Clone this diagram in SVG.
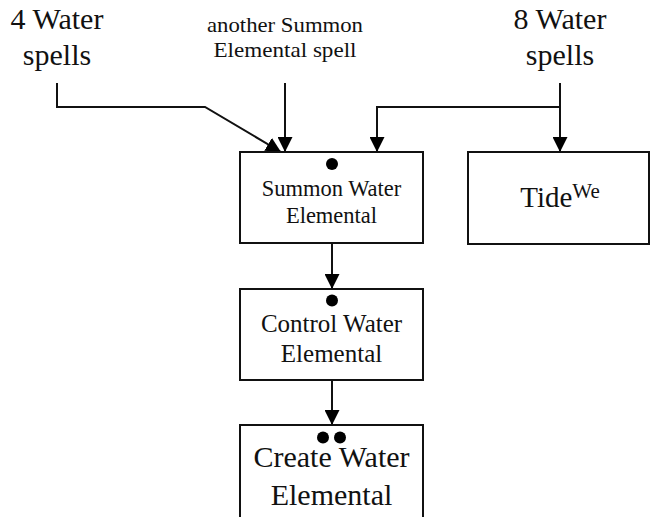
<svg xmlns="http://www.w3.org/2000/svg" width="651" height="517" viewBox="0 0 651 517">
<defs>
<style>
.t{font-family:"Liberation Serif","Times New Roman",serif;fill:#111;text-anchor:middle}
.box{fill:#fff;stroke:#111;stroke-width:2}
.ln{fill:none;stroke:#111;stroke-width:2}
.dot{fill:#000}
</style>
<marker id="ah" viewBox="0 0 15 15" refX="15" refY="7.5" markerWidth="15" markerHeight="15" markerUnits="userSpaceOnUse" orient="auto">
<path d="M0,0 L15,7.5 L0,15 Z" fill="#000"/>
</marker>
</defs>
<rect width="651" height="517" fill="#fff"/>
<g id="label-4water">
<text class="t" x="57" y="29" font-size="30">4 Water</text>
<text class="t" x="57" y="65" font-size="30">spells</text>
</g>
<g id="label-another">
<text class="t" x="285" y="32" font-size="21" textLength="156" lengthAdjust="spacingAndGlyphs">another Summon</text>
<text class="t" x="285" y="57" font-size="21" textLength="143" lengthAdjust="spacingAndGlyphs">Elemental spell</text>
</g>
<g id="label-8water">
<text class="t" x="560" y="29" font-size="30">8 Water</text>
<text class="t" x="560" y="65" font-size="30">spells</text>
</g>
<g id="connectors">
<polyline class="ln" points="57,83 57,107 205,107 281,152" marker-end="url(#ah)"/>
<line class="ln" x1="285" y1="83" x2="285" y2="152" marker-end="url(#ah)"/>
<line class="ln" x1="560" y1="83" x2="560" y2="152" marker-end="url(#ah)"/>
<polyline class="ln" points="560,107 377,107 377,152" marker-end="url(#ah)"/>
<line class="ln" x1="332" y1="243" x2="332" y2="289" marker-end="url(#ah)"/>
<line class="ln" x1="332" y1="380" x2="332" y2="425" marker-end="url(#ah)"/>
</g>
<g id="summon">
<rect class="box" x="240" y="152" width="183" height="91"/>
<circle class="dot" cx="332" cy="164" r="6"/>
<text class="t" x="331.5" y="196" font-size="22.5">Summon Water</text>
<text class="t" x="331.5" y="223" font-size="22.5">Elemental</text>
</g>
<g id="tide">
<rect class="box" x="468" y="152" width="181" height="92"/>
<text class="t" x="560" y="207" font-size="29">Tide<tspan font-size="21" dy="-9">We</tspan></text>
</g>
<g id="control">
<rect class="box" x="240" y="289" width="183" height="91"/>
<circle class="dot" cx="332" cy="300.5" r="6"/>
<text class="t" x="331.5" y="332" font-size="25">Control Water</text>
<text class="t" x="331.5" y="362" font-size="25">Elemental</text>
</g>
<g id="create">
<rect class="box" x="240" y="425" width="183" height="100"/>
<circle class="dot" cx="323" cy="437.5" r="6"/>
<circle class="dot" cx="340" cy="437.5" r="6"/>
<text class="t" x="331.5" y="467" font-size="30">Create Water</text>
<text class="t" x="331.5" y="505" font-size="30">Elemental</text>
</g>
</svg>
